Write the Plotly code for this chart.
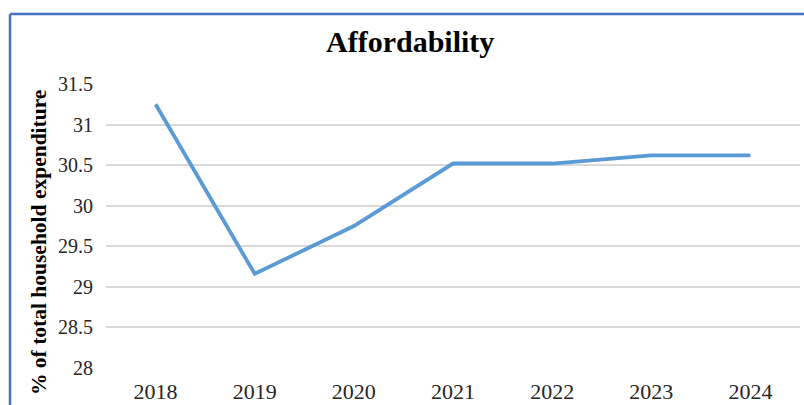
import plotly.graph_objects as go

# Share of total household expenditure, by year
years = ["2018", "2019", "2020", "2021", "2022", "2023", "2024"]
share_pct = [31.25, 29.16, 29.75, 30.52, 30.52, 30.62, 30.62]
y_ticks = [28, 28.5, 29, 29.5, 30, 30.5, 31, 31.5]
y_tick_text = ["28", "28.5", "29", "29.5", "30", "30.5", "31", "31.5"]

W, H = 804, 405
ML, MR, MT, MB = 106, 4, 84, 37
PW, PH = W - ML - MR, H - MT - MB


def px_x(px):
    return (px - ML) / PW


def px_y(py):
    return (H - MB - py) / PH


SERIF = "Liberation Serif"

fig = go.Figure(
    go.Scatter(
        x=years,
        y=share_pct,
        mode="lines",
        line=dict(color="#5B9BD5", width=3.8),
        hoverinfo="x+y",
    )
)

fig.update_layout(
    width=W,
    height=H,
    margin=dict(l=ML, r=MR, t=MT, b=MB, autoexpand=False),
    paper_bgcolor="white",
    plot_bgcolor="white",
    showlegend=False,
    font=dict(family=SERIF, color="#262626"),
    xaxis=dict(
        type="category",
        range=[-0.5, 6.5],
        automargin=False,
        showgrid=False,
        zeroline=False,
        showline=False,
        ticks="",
        tickfont=dict(size=22, family=SERIF, color="#262626"),
        ticklabelstandoff=8,
    ),
    yaxis=dict(
        range=[28, 31.5],
        automargin=False,
        tickvals=y_ticks,
        ticktext=y_tick_text,
        showgrid=True,
        gridcolor="#D9D9D9",
        gridwidth=1.5,
        zeroline=False,
        showline=False,
        ticks="",
        tickfont=dict(size=20, family=SERIF, color="#262626"),
        ticklabelstandoff=12,
    ),
    annotations=[
        dict(
            text="<b>Affordability</b>",
            xref="paper", yref="paper",
            x=px_x(410), y=px_y(41),
            xanchor="center", yanchor="middle",
            showarrow=False,
            font=dict(size=30, family=SERIF, color="black"),
        ),
        dict(
            text="<b>% of total household expenditure</b>",
            xref="paper", yref="paper",
            x=px_x(39), y=px_y(243),
            xanchor="center", yanchor="middle",
            textangle=-90,
            showarrow=False,
            font=dict(size=21.5, family=SERIF, color="black"),
        ),
    ],
    shapes=[
        # chart frame (top and left edges)
        dict(type="line", xref="paper", yref="paper",
             x0=px_x(10), x1=px_x(810), y0=px_y(14), y1=px_y(14),
             line=dict(color="#4472C4", width=2.5)),
        dict(type="line", xref="paper", yref="paper",
             x0=px_x(10), x1=px_x(10), y0=px_y(14), y1=px_y(420),
             line=dict(color="#4472C4", width=2.5)),
    ],
)

fig.write_html("out.html")
